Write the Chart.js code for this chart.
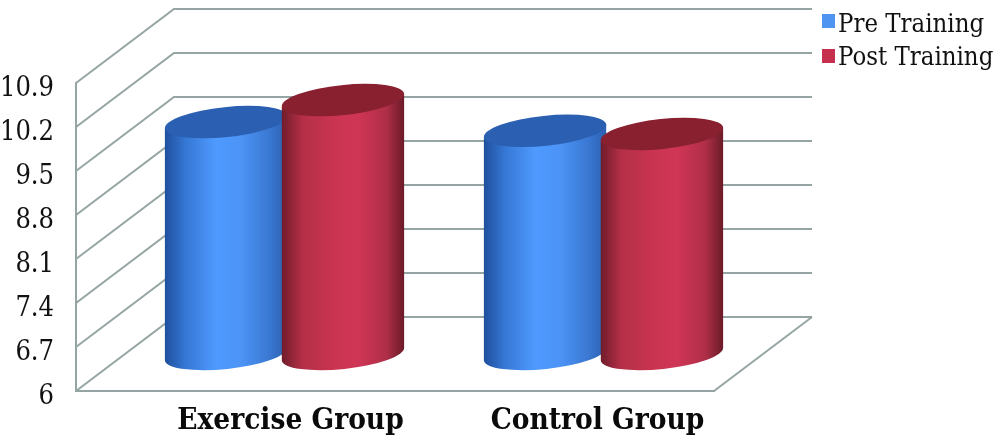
<!DOCTYPE html>
<html>
<head>
<meta charset="utf-8">
<script src="https://cdn.jsdelivr.net/npm/chart.js@4"></script>
<style>
	html, body { margin: 0; padding: 0; background: #fff; }
	canvas { display: block; }
</style>
</head>
<body>
<canvas id="cylinder-chart" width="1000" height="440"></canvas>
<script>
const categories = ['Exercise Group', 'Control Group'];
const pre_training = [9.69, 9.55];
const post_training = [10.04, 9.50];
const y_ticks = [6, 6.7, 7.4, 8.1, 8.8, 9.5, 10.2, 10.9];

const FONT = '"DejaVu Serif Condensed", "DejaVu Serif", serif';
const GRID_COLOR = '#94a5a3';

// depth of the fake 3d box
const DEPTH_X = 98;
const DEPTH_Y = -74;

// the category labels are not quite centred in the original
const LABEL_NUDGE = [5, -7];

const cylinder_colors = [
	{
		legend: '#4f94f0',
		top: '#2a5fb2',
		stops: ['#1f4f9c', '#3577d4', '#4f9aff', '#4c94f6', '#3a78d2', '#2a5fb0']
	},
	{
		legend: '#c62f4d',
		top: '#88202f',
		stops: ['#6f1c2a', '#b42f47', '#c93450', '#d03556', '#b02f48', '#6a1a28']
	}
];

// back wall, side wall and floor
const box_plugin = {
	id: 'box',
	beforeDraw(chart) {
		chart.scales.x.getLabelItems(chart.chartArea).forEach(function (item, i) {
			if ( !item.nudged ) {
				item.options.translation[0] += LABEL_NUDGE[i];
				item.nudged = true;
			}
		});
	},
	beforeDatasetsDraw(chart) {
		const c = chart.ctx;
		const y = chart.scales.y;
		const area = chart.chartArea;

		c.save();
		c.strokeStyle = GRID_COLOR;
		c.lineWidth = 2;
		y.ticks.forEach(function (tick) {
			const py = y.getPixelForValue(tick.value);
			c.beginPath();
			c.moveTo(area.left, py);
			c.lineTo(area.left + DEPTH_X, py + DEPTH_Y);
			c.lineTo(area.right + DEPTH_X, py + DEPTH_Y);
			c.stroke();
		});
		c.beginPath();
		c.moveTo(area.right, area.bottom);
		c.lineTo(area.right + DEPTH_X, area.bottom + DEPTH_Y);
		c.stroke();
		c.restore();
	}
};

// native bars are transparent, the cylinders are drawn over their elements
const cylinder_plugin = {
	id: 'cylinders',
	afterDatasetsDraw(chart) {
		const c = chart.ctx;
		const tilt = -6 * Math.PI / 180;
		const ry = 15;

		chart.data.datasets.forEach(function (ds, i) {
			const colors = cylinder_colors[i];

			chart.getDatasetMeta(i).data.forEach(function (bar) {
				const cx = bar.x + DEPTH_X / 2;
				const top = bar.y + DEPTH_Y / 2;
				const base = bar.base + DEPTH_Y / 2;
				const rx = bar.width / 2;
				const edge_x = rx * Math.cos(tilt);
				const edge_y = rx * Math.sin(tilt);

				const g = c.createLinearGradient(cx - rx, 0, cx + rx, 0);
				g.addColorStop(0, colors.stops[0]);
				g.addColorStop(0.17, colors.stops[1]);
				g.addColorStop(0.42, colors.stops[2]);
				g.addColorStop(0.62, colors.stops[3]);
				g.addColorStop(0.85, colors.stops[4]);
				g.addColorStop(1, colors.stops[5]);

				c.save();
				c.fillStyle = g;
				c.beginPath();
				c.moveTo(cx - edge_x, top - edge_y);
				c.lineTo(cx - edge_x, base - edge_y);
				c.ellipse(cx, base, rx, ry, tilt, Math.PI, 0, true);
				c.lineTo(cx + edge_x, top + edge_y);
				c.closePath();
				c.fill();

				c.fillStyle = colors.top;
				c.beginPath();
				c.ellipse(cx, top, rx, ry, tilt, 0, Math.PI * 2);
				c.fill();
				c.restore();
			});
		});
	}
};

const side_legend_plugin = {
	id: 'sideLegend',
	afterDraw(chart) {
		const c = chart.ctx;
		c.save();
		c.font = '25.5px ' + FONT;
		c.textBaseline = 'alphabetic';
		c.textAlign = 'left';
		chart.data.datasets.forEach(function (ds, i) {
			const row = 33 * i;
			c.fillStyle = cylinder_colors[i].legend;
			c.fillRect(822, 14 + row + i * 2, 13, 14);
			c.fillStyle = '#111';
			c.fillText(ds.label, 838, 32 + row);
		});
		c.restore();
	}
};

const chart_ctx = document.getElementById('cylinder-chart');

new Chart(chart_ctx, {
	type: 'bar',
	data: {
		labels: categories,
		datasets: [
			{ label: 'Pre Training', data: pre_training, base: y_ticks[0], backgroundColor: 'transparent' },
			{ label: 'Post Training', data: post_training, base: y_ticks[0], backgroundColor: 'transparent' }
		]
	},
	plugins: [box_plugin, cylinder_plugin, side_legend_plugin],
	options: {
		responsive: false,
		animation: false,
		categoryPercentage: 0.733,
		barPercentage: 1.052,
		layout: {
			padding: { top: 83, right: 286 }
		},
		plugins: {
			legend: { display: false },
			tooltip: { enabled: false }
		},
		scales: {
			x: {
				grid: { display: false },
				border: { display: true, color: GRID_COLOR, width: 2 },
				ticks: {
					color: '#0a0a0a',
					font: { family: FONT, size: 29.5, weight: 'bold' },
					labelOffset: 50,
					maxRotation: 0,
					padding: 5
				},
				afterFit(scale) { scale.height = 49; }
			},
			y: {
				min: 6,
				max: 10.9,
				grid: { display: false },
				border: { display: true, color: GRID_COLOR, width: 2 },
				afterBuildTicks(scale) {
					scale.ticks = y_ticks.map(function (v) { return { value: v }; });
				},
				ticks: {
					color: '#111',
					font: { family: FONT, size: 27 },
					labelOffset: 6,
					padding: 14,
					callback(value) { return String(value); }
				},
				afterFit(scale) { scale.width = 76; }
			}
		}
	}
});
</script>
</body>
</html>
